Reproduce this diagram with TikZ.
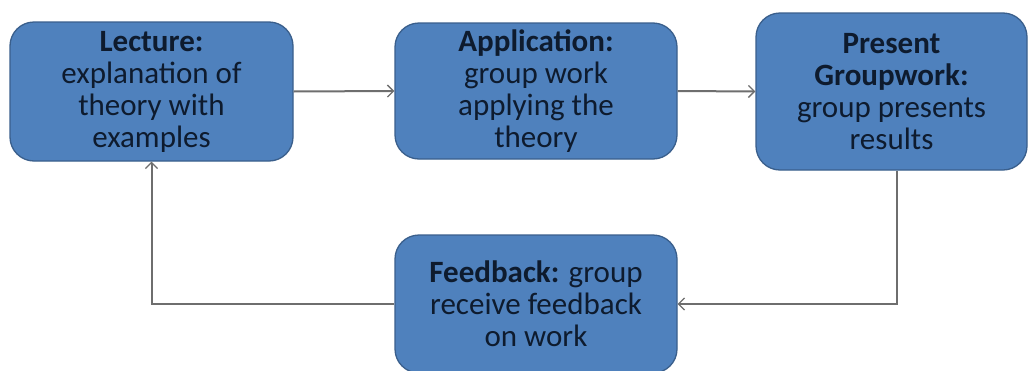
\documentclass[tikz,border=0pt]{standalone}
\usepackage{fontspec}
\setmainfont{Carlito}
\usetikzlibrary{arrows.meta}
\definecolor{boxblue}{HTML}{4F81BD}
\definecolor{boxedge}{HTML}{3A5F8C}
\definecolor{boxtext}{HTML}{0E1B2E}
\definecolor{linkgray}{HTML}{6E6E6E}
\begin{document}
\begin{tikzpicture}[x=1pt,y=-1pt,
  stage/.style={draw=boxedge, line width=1.3pt, fill=boxblue,
    rounded corners=24pt, align=center, text=boxtext, inner sep=0pt,
    font=\fontsize{31}{32}\selectfont},
  link/.style={draw=linkgray, line width=2pt,
    -{Straight Barb[length=6pt,width=12pt,line width=1.3pt]}}]
\useasboundingbox (0,0) rectangle (1029,370);
\clip (0,0) rectangle (1029,370);
\fill[white] (0,0) rectangle (1029,370);

% the four stages of the teaching cycle
\node[stage, minimum width=283pt, minimum height=139pt] (lec) at (151.5,91.5)
  {\textbf{Lecture:}\\explanation of\\theory with\\examples};
\node[stage, minimum width=282pt, minimum height=136pt] (app) at (536,91)
  {\textbf{Application:}\\group work\\applying the\\theory};
\node[stage, minimum width=271pt, minimum height=157pt] (pre) at (891.5,91.5)
  {\textbf{Present}\\\textbf{Groupwork:}\\group presents\\results};
\node[stage, minimum width=282pt, minimum height=138pt] (fb) at (536,304)
  {\textbf{Feedback:} group\\receive feedback\\on work};

% connectors around the cycle
\draw[link] (lec.east) -- (app.west);
\draw[link] (app.east) -- (pre.west);
\draw[link] ([xshift=5.5pt]pre.south) |- (fb.east);
\draw[link] (fb.west) -| (lec.south);
\end{tikzpicture}
\end{document}
